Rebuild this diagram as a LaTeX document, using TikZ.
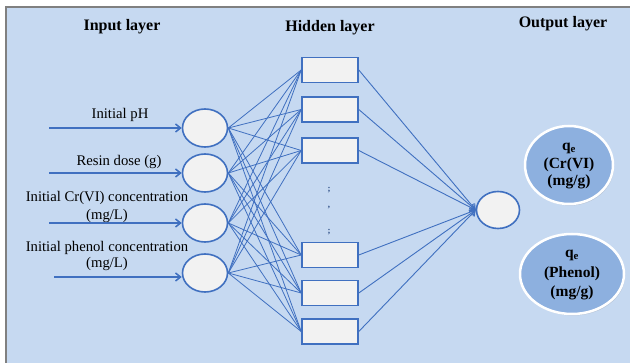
\documentclass[tikz,border=0pt]{standalone}
\usepackage{fontspec}
\setmainfont{Liberation Serif}
\usetikzlibrary{arrows.meta,shapes.geometric,shadows}
\definecolor{bgblue}{HTML}{C6D9F1}
\definecolor{lineblue}{HTML}{4070C0}
\definecolor{nodefill}{HTML}{F2F2F2}
\definecolor{outfill}{HTML}{8DB0DF}
\definecolor{framegray}{HTML}{808080}
\tikzset{
  inneuron/.style={ellipse,draw=lineblue,line width=1.6pt,fill=nodefill,minimum width=45pt,minimum height=38pt,inner sep=0pt},
  hidbox/.style={rectangle,draw=lineblue,line width=1.6pt,fill=nodefill,minimum width=56pt,minimum height=25pt,inner sep=0pt},
  outneuron/.style={ellipse,draw=lineblue,line width=1.6pt,fill=nodefill,minimum width=43pt,minimum height=37pt,inner sep=0pt},
  result/.style={ellipse,draw=white,line width=2.5pt,fill=outfill,inner sep=0pt,drop shadow={opacity=0.25,shadow xshift=1pt,shadow yshift=-1.5pt}},
  heading/.style={font=\fontsize{16}{18}\selectfont\bfseries,inner sep=0pt},
  inlabel/.style={font=\fontsize{14.7}{16}\selectfont,inner sep=0pt,align=center},
  restext/.style={font=\fontsize{15.5}{17.5}\selectfont\bfseries,inner sep=0pt,align=center},
  inarrow/.style={draw=lineblue,line width=1.5pt,-{Straight Barb[length=5pt,width=8pt]}},
  link/.style={draw=lineblue,line width=0.8pt},
  outlink/.style={draw=lineblue,line width=0.9pt,-{Straight Barb[length=5pt,width=7pt]}},
  dotmark/.style={font=\fontsize{9}{9}\selectfont\bfseries,text=lineblue!70!black,inner sep=0pt}
}
\begin{document}
\begin{tikzpicture}[x=1pt,y=-1pt]
\useasboundingbox (0,0) rectangle (630,363);
\fill[white] (0,0) rectangle (630,363);
\fill[bgblue] (6,7) rectangle (630,363);
\draw[framegray,line width=1.2pt] (6,363) -- (6,7) -- (630,7);

% headings
\node[heading] (hin) at (122,27) {Input layer};
\node[heading] (hhid) at (330,28) {Hidden layer};
\node[heading] (hout) at (563,24) {Output layer};

% input neurons
\node[inneuron] (i1) at (205,128) {};
\node[inneuron] (i2) at (205,173) {};
\node[inneuron] (i3) at (205,223) {};
\node[inneuron] (i4) at (205,273) {};

% hidden boxes
\node[hidbox] (h1) at (330,70) {};
\node[hidbox] (h2) at (330,109.5) {};
\node[hidbox] (h3) at (330,150.5) {};
\node[hidbox] (h4) at (330,255) {};
\node[hidbox] (h5) at (330,293) {};
\node[hidbox] (h6) at (330,331.5) {};

% dots
\node[dotmark] (d1) at (329,190) {;};
\node[dotmark] (d2) at (329,208) {,};
\node[dotmark] (d3) at (329,232) {;};

% output neuron
\node[outneuron] (o) at (498,210) {};

% result ellipses
\node[result,minimum width=88pt,minimum height=78pt] (r1) at (569,165) {};
\node[restext] (t1) at (569,166) {q\textsubscript{e}\\(Cr(VI)\\(mg/g)};
\node[result,minimum width=104pt,minimum height=80pt] (r2) at (572,274) {};
\node[restext] (t2) at (572,275) {q\textsubscript{e}\\[2pt](Phenol)\\[2pt](mg/g)};

% input labels
\node[inlabel] (l1) at (120,115) {Initial pH};
\node[inlabel] (l2) at (119,162) {Resin dose (g)};
\node[inlabel] (l3) at (107,207) {Initial Cr(VI) concentration\\[2pt](mg/L)};
\node[inlabel] (l4) at (107,256) {Initial phenol concentration\\[0pt](mg/L)};

% input arrows
\coordinate (s1) at (49,128);
\coordinate (s2) at (49,173);
\coordinate (s3) at (49,223);
\coordinate (s4) at (54,277);
\draw[inarrow] (s1) -- (i1.west);
\draw[inarrow] (s2) -- (i2.west);
\draw[inarrow] (s3) -- (i3.west);
\draw[inarrow] (s4) -- (i4.west |- s4);

% input -> hidden
\foreach \i in {1,2,3,4}{
  \foreach \h in {1,2,3,4,5,6}{
    \draw[link] (i\i.east) -- (h\h.west);
  }
}

% hidden -> output
\foreach \h in {1,2,3,4,5,6}{
  \draw[outlink] (h\h.east) -- (o.west);
}
\end{tikzpicture}
\end{document}
